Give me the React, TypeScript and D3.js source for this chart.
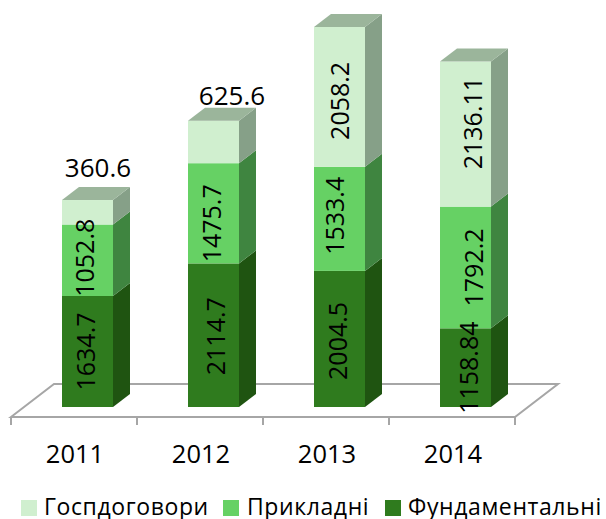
import React from "react";
import * as d3 from "d3";

const years = ["2011", "2012", "2013", "2014"];
const fundamental = [1634.7, 2114.7, 2004.5, 1158.84];
const applied = [1052.8, 1475.7, 1533.4, 1792.2];
const contracts = [360.6, 625.6, 2058.2, 2136.11];
const fundamentalLabels = ["1634.7", "2114.7", "2004.5", "1158.84"];
const appliedLabels = ["1052.8", "1475.7", "1533.4", "1792.2"];
const contractLabels = ["360.6", "625.6", "2058.2", "2136.11"];
const seriesNames = ["Госпдоговори", "Прикладні", "Фундаментальні"];

const FONT = "'Open Sans', sans-serif";
const W = 606, H = 519;
const DX = 17, DY = -13, BAR_W = 51;
const BAR_SHIFT = 13.5;
const BASE_Y = 407;
const FLOOR_Y = 417;

const x = d3.scaleBand<string>().domain(years).range([11, 515]).paddingInner(0).paddingOuter(0);
const y = d3.scaleLinear().domain([0, 6000]).range([BASE_Y, BASE_Y - 6000 * 0.0679]);

const palette = [
  { front: "#2f7b1e", side: "#1f5411", top: "#1f5411" },
  { front: "#66d164", side: "#3f8540", top: "#4a9a4a" },
  { front: "#d0efcf", side: "#86a088", top: "#9bb59b" },
];
const legendColors = [palette[2].front, palette[1].front, palette[0].front];
const legendSwatchX = [21, 223, 385];
const legendTextX = [44, 247, 408];
const aboveLabelOffset = [
  { dx: 10.5, dy: -10 },
  { dx: 18.5, dy: -3 },
];
// hand-placed nudges of the rotated labels, [series][year]
const labelNudgeX = [
  [-1.5, 2, -2, 3.5],
  [-3, -2, -5, 8],
  [0, 0, 0.5, 7.5],
];
const labelNudgeY = [
  [0, 1, 2, 0],
  [-2.5, 10, -3, 0],
  [0, 0, 4, -11],
];

export default function App() {
  const stacks = [fundamental, applied, contracts];
  const labels = [fundamentalLabels, appliedLabels, contractLabels];
  const stacked = d3.stack<number[], number>().keys([0, 1, 2]).value((d, k) => d[k])(
    years.map((_, i) => stacks.map((s) => s[i]))
  );
  const xmin = x.range()[0];
  const xmax = x.range()[1];
  const ticks = [...years.map((yr) => x(yr) as number), xmax];
  const barX = (yr: string) => (x(yr) as number) + (x.bandwidth() - BAR_W) / 2 + BAR_SHIFT;
  return (
    <svg width={W} height={H} style={{ position: "absolute", left: 0, top: 0, background: "#fff" }} fontFamily={FONT}>
      <path
        d={`M${xmin},${FLOOR_Y}L${xmin + 43},${FLOOR_Y - 33}L${xmax + 43},${FLOOR_Y - 33}L${xmax},${FLOOR_Y}Z`}
        fill="#fff"
        stroke="#a6a6a6"
        strokeWidth={2}
      />
      {ticks.map((t) => (
        <line key={t} x1={t} x2={t} y1={FLOOR_Y} y2={FLOOR_Y + 8} stroke="#a6a6a6" strokeWidth={2} />
      ))}
      {years.map((yr, i) => {
        const x0 = barX(yr);
        return (
          <g key={yr}>
            {stacked.map((layer, k) => {
              const yb = y(layer[i][0]);
              const yt = y(layer[i][1]);
              const c = palette[k];
              return (
                <g key={k}>
                  <path d={`M${x0 + BAR_W},${yb}L${x0 + BAR_W + DX},${yb + DY}L${x0 + BAR_W + DX},${yt + DY}L${x0 + BAR_W},${yt}Z`} fill={c.side} />
                  <rect x={x0} y={yt} width={BAR_W} height={yb - yt} fill={c.front} />
                  {k === 2 && (
                    <path d={`M${x0},${yt}L${x0 + DX},${yt + DY}L${x0 + BAR_W + DX},${yt + DY}L${x0 + BAR_W},${yt}Z`} fill={c.top} />
                  )}
                </g>
              );
            })}
          </g>
        );
      })}
      {years.map((yr, i) => {
        const x0 = barX(yr);
        return stacked.map((layer, k) => {
          const yb = y(layer[i][0]);
          const yt = y(layer[i][1]);
          if (k === 2 && i < 2) {
            const off = aboveLabelOffset[i];
            return (
              <text key={k} x={x0 + BAR_W / 2 + off.dx} y={yt + DY + off.dy} textAnchor="middle" fontSize={26} fill="#000">
                {labels[k][i]}
              </text>
            );
          }
          const cx = x0 + BAR_W / 2 + labelNudgeX[k][i];
          const cy = (yb + yt) / 2 + labelNudgeY[k][i];
          return (
            <text key={k} transform={`translate(${cx},${cy}) rotate(-90)`} textAnchor="middle" dy="0.36em" fontSize={25} fill="#000">
              {labels[k][i]}
            </text>
          );
        });
      })}
      {years.map((yr) => (
        <text key={yr} x={(x(yr) as number) + x.bandwidth() / 2 + 1} y={463} textAnchor="middle" fontSize={25.5} fill="#000">
          {yr}
        </text>
      ))}
      {seriesNames.map((n, i) => (
        <g key={n}>
          <rect x={legendSwatchX[i]} y={500} width={16} height={16} fill={legendColors[i]} />
          <text x={legendTextX[i]} y={515} fontSize={23} letterSpacing={0.6} fill="#000">{n}</text>
        </g>
      ))}
    </svg>
  );
}
